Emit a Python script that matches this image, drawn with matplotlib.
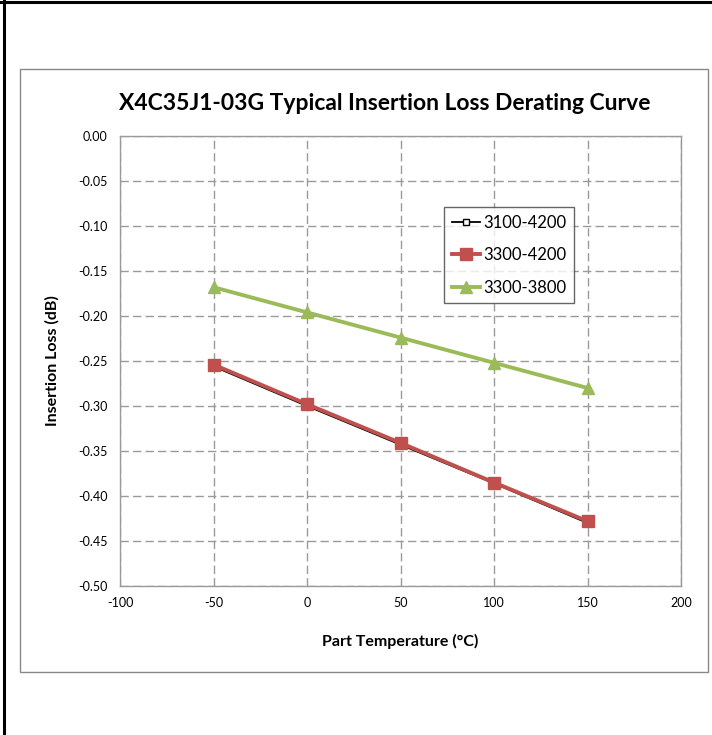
import matplotlib
matplotlib.use("Agg")
import matplotlib.pyplot as plt
from matplotlib.patches import Rectangle
from matplotlib.lines import Line2D

W, H = 712, 735
DPI = 100

temps = [-50, 0, 50, 100, 150]
loss_3100_4200 = [-0.256, -0.300, -0.343, -0.386, -0.430]
loss_3300_4200 = [-0.254, -0.298, -0.341, -0.385, -0.428]
loss_3300_3800 = [-0.168, -0.196, -0.224, -0.252, -0.280]

x_ticks = [-100, -50, 0, 50, 100, 150, 200]
y_ticks = [0.00, -0.05, -0.10, -0.15, -0.20, -0.25, -0.30, -0.35, -0.40, -0.45, -0.50]

plt.rcParams["font.family"] = ["Lato", "DejaVu Sans"]

fig = plt.figure(figsize=(W / DPI, H / DPI), dpi=DPI)


def px_box(x0, y0, x1, y1):
    # pixel box (top-left origin) -> figure fraction [l, b, w, h]
    return [x0 / W, 1 - y1 / H, (x1 - x0) / W, (y1 - y0) / H]


# outer frame (only top and left visible in the crop)
fig.add_artist(Line2D([0, 1], [1 - 2 / H, 1 - 2 / H], transform=fig.transFigure,
                      color="black", lw=2.2))
fig.add_artist(Line2D([4 / W, 4 / W], [0, 1], transform=fig.transFigure,
                      color="black", lw=2.2))

# chart area box
l, b, w, h = px_box(20, 69, 708, 672)
fig.add_artist(Rectangle((l, b), w, h, transform=fig.transFigure,
                         fill=False, edgecolor="#898989", lw=1.0))

ax = fig.add_axes(px_box(120, 136, 681, 586))

ax.plot(temps, loss_3100_4200, color="black", lw=1.3, marker="s", ms=5,
        mfc="white", mec="black", mew=1.0, label="3100-4200", zorder=3)
ax.plot(temps, loss_3300_4200, color="#C0504D", lw=2.8, marker="s", ms=8,
        mfc="#C0504D", mec="#C0504D", label="3300-4200", zorder=4)
ax.plot(temps, loss_3300_3800, color="#9BBB59", lw=2.8, marker="^", ms=8,
        mfc="#9BBB59", mec="#9BBB59", label="3300-3800", zorder=5)

ax.set_xlim(-100, 200)
ax.set_ylim(-0.50, 0.00)
ax.set_xticks(x_ticks)
ax.set_yticks(y_ticks)
ax.set_xticklabels([str(t) for t in x_ticks])
ax.set_yticklabels([f"{t:.2f}" for t in y_ticks])
ax.tick_params(length=0, labelsize=9, colors="black")
ax.tick_params(axis="x", pad=8)
ax.tick_params(axis="y", pad=9)
ax.grid(True, color="#9a9a9a", ls=(0, (6, 3)), lw=1.0)
ax.set_axisbelow(True)
for sp in ax.spines.values():
    sp.set_color("#9a9a9a")
    sp.set_linewidth(1.0)

ax.set_xlabel("Part Temperature (\u00b0C)", fontsize=11.5, fontweight="bold", labelpad=18)
ax.set_ylabel("Insertion Loss (dB)", fontsize=11.5, fontweight="bold", labelpad=13)

fig.text(385 / W, 1 - 103 / H, "X4C35J1-03G Typical Insertion Loss Derating Curve",
         ha="center", va="center", fontsize=16.5, fontweight="bold")

leg = ax.legend(loc="upper left", bbox_to_anchor=((444 - 120) / 561, 1 - (207 - 136) / 450),
                fontsize=12, frameon=True, fancybox=False, borderaxespad=0,
                handlelength=1.7, handletextpad=0.2, labelspacing=1.0,
                borderpad=0.45)
leg.get_frame().set_edgecolor("#404040")
leg.get_frame().set_linewidth(1.0)

fig.savefig("out.png", dpi=DPI)
